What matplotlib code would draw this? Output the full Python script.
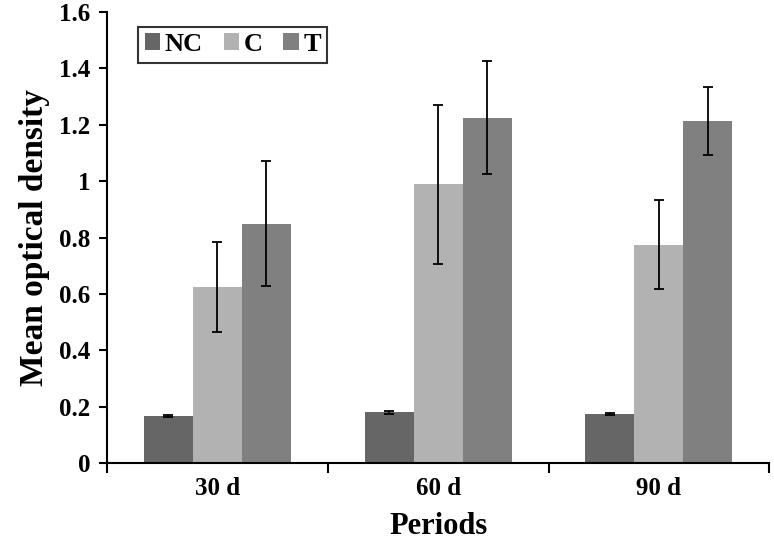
import numpy as np
import matplotlib
matplotlib.use("Agg")
import matplotlib.pyplot as plt

periods = ["30 d", "60 d", "90 d"]
groups = ["NC", "C", "T"]
nc_vals = [0.167, 0.180, 0.174]
nc_err = [0.005, 0.005, 0.004]
c_vals = [0.625, 0.990, 0.775]
c_err = [0.160, 0.282, 0.159]
t_vals = [0.849, 1.225, 1.213]
t_err = [0.222, 0.200, 0.120]
colors = ["#666666", "#b2b2b2", "#808080"]

plt.rcParams["font.family"] = ["Liberation Serif", "DejaVu Serif"]
plt.rcParams["font.weight"] = "bold"

fig = plt.figure(figsize=(7.74, 5.5), dpi=100)
ax = fig.add_axes([0.138, 0.158, 0.856, 0.82])

x = np.arange(len(periods))
width = 0.222
series = [(nc_vals, nc_err), (c_vals, c_err), (t_vals, t_err)]
for i, (vals, err) in enumerate(series):
    ax.bar(x + (i - 1) * width, vals, width, yerr=err, color=colors[i],
           label=groups[i], error_kw=dict(ecolor="black", elinewidth=1.3,
                                          capsize=3.6, capthick=1.3))

ax.set_xlim(-0.5, 2.5)
ax.set_ylim(0, 1.6)
ax.set_yticks(np.arange(0, 1.61, 0.2))
ax.set_yticklabels(["0", "0.2", "0.4", "0.6", "0.8", "1", "1.2", "1.4", "1.6"])
ax.set_xticks(x)
ax.set_xticklabels(periods)
ax.set_xticks([-0.5, 0.5, 1.5, 2.5], minor=True)
ax.tick_params(axis="x", which="major", length=0, pad=10, labelsize=18)
ax.tick_params(axis="x", which="minor", length=7, width=1.5, direction="out")
ax.tick_params(axis="y", length=6, width=1.5, direction="out", labelsize=18, pad=6)

for s in ["top", "right"]:
    ax.spines[s].set_visible(False)
for s in ["left", "bottom"]:
    ax.spines[s].set_linewidth(1.5)

ax.set_ylabel("Mean optical density", fontsize=24, fontweight="bold", labelpad=6)
ax.set_xlabel("Periods", fontsize=22, fontweight="bold", labelpad=9)

leg = ax.legend(loc="upper left", ncol=3, frameon=True, fancybox=False,
                edgecolor="black", fontsize=19, handlelength=0.6, handleheight=0.6,
                handletextpad=0.15, columnspacing=0.8, borderpad=0.25,
                borderaxespad=0, bbox_to_anchor=(0.047, 0.968))
leg.get_frame().set_linewidth(1.5)

fig.savefig("out.png", dpi=100)
